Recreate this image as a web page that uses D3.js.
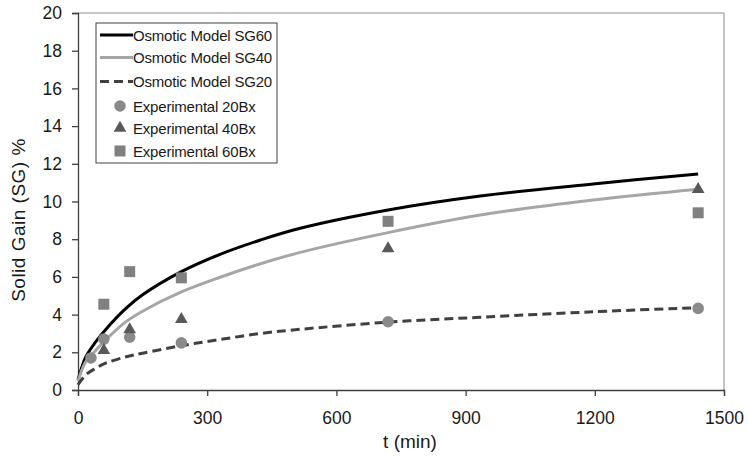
<!DOCTYPE html>
<html lang="en">
<head>
<meta charset="UTF-8">
<title>Solid Gain</title>
<script src="https://d3js.org/d3.v7.min.js"></script>
<style>
  html, body { margin: 0; padding: 0; background: #fff; }
  svg { display: block; font-family: "Liberation Sans", Arial, sans-serif; }
</style>
</head>
<body>
<div id="chart"></div>
<script>
// model curves
const modelT = [0, 18, 41, 64, 110, 150, 240, 330, 424, 516, 720, 934, 1196, 1440];
const sg60Model = [0.53, 1.75, 2.55, 3.2, 4.3, 5.05, 6.28, 7.2, 7.96, 8.58, 9.55, 10.29, 10.93, 11.46];
const sg40Model = [0.48, 1.5, 2.1, 2.65, 3.6, 4.18, 5.2, 5.98, 6.7, 7.3, 8.35, 9.28, 10.08, 10.65];
const sg20Model = [0.28, 0.8, 1.15, 1.42, 1.75, 1.95, 2.35, 2.68, 3.0, 3.22, 3.6, 3.86, 4.15, 4.37];

// experimental points
const exp20T = [30, 60, 120, 240, 720, 1440];
const exp20 = [1.7, 2.7, 2.8, 2.5, 3.62, 4.33];
const exp40T = [60, 120, 240, 720, 1440];
const exp40 = [2.1, 3.2, 3.75, 7.5, 10.65];
const exp60T = [60, 120, 240, 720, 1440];
const exp60 = [4.55, 6.28, 5.95, 8.95, 9.4];

const xTicks = [0, 300, 600, 900, 1200, 1500];
const yTicks = [0, 2, 4, 6, 8, 10, 12, 14, 16, 18, 20];

const width = 748, height = 459;
const margin = { top: 13, right: 24, bottom: 69, left: 78 };
const w = width - margin.left - margin.right;
const h = height - margin.top - margin.bottom;

const svg = d3.select("#chart").append("svg")
    .attr("width", width)
    .attr("height", height);

const g = svg.append("g")
    .attr("transform", `translate(${margin.left},${margin.top})`);

const x = d3.scaleLinear().domain([0, 1500]).range([0, w]);
const y = d3.scaleLinear().domain([0, 20]).range([h, 0]);

// plot border (top / right)
g.append("path")
    .attr("d", `M0,0H${w}V${h}`)
    .attr("fill", "none")
    .attr("stroke", "#8c8c8c")
    .attr("stroke-width", 1);

const xAxis = g.append("g")
    .attr("transform", `translate(0,${h})`)
    .call(d3.axisBottom(x).tickValues(xTicks).tickSize(6).tickPadding(16).tickFormat(d3.format("d")));
const yAxis = g.append("g")
    .call(d3.axisLeft(y).tickValues(yTicks).tickSize(6).tickPadding(10).tickFormat(d3.format("d")));

[xAxis, yAxis].forEach(a => {
    a.select(".domain").attr("stroke", "#404040").attr("stroke-width", 1.3);
    a.selectAll(".tick line").attr("stroke", "#404040").attr("stroke-width", 1.3);
    a.selectAll(".tick text")
        .attr("font-size", 17.5)
        .attr("font-family", "Liberation Sans, Arial, sans-serif")
        .attr("fill", "#1a1a1a");
});

// axis titles
svg.append("text")
    .attr("x", 410).attr("y", 448)
    .attr("text-anchor", "middle")
    .attr("font-size", 19)
    .attr("fill", "#1a1a1a")
    .text("t (min)");

svg.append("text")
    .attr("transform", "translate(25,220) rotate(-90)")
    .attr("text-anchor", "middle")
    .attr("font-size", 19)
    .attr("letter-spacing", 0.5)
    .attr("fill", "#1a1a1a")
    .text("Solid Gain (SG) %");

// model lines
const line = d3.line()
    .x(d => x(d[0]))
    .y(d => y(d[1]))
    .curve(d3.curveCatmullRom.alpha(0.5));

const models = [
    { vals: sg60Model, color: "#000000", dash: null },
    { vals: sg40Model, color: "#a6a6a6", dash: null },
    { vals: sg20Model, color: "#404040", dash: "9,5" }
];

models.forEach(m => {
    g.append("path")
        .datum(modelT.map((t, i) => [t, m.vals[i]]))
        .attr("d", line)
        .attr("fill", "none")
        .attr("stroke", m.color)
        .attr("stroke-width", 3)
        .attr("stroke-dasharray", m.dash);
});

// markers
const circleSym = d3.symbol().type(d3.symbolCircle).size(105);
const triSym = d3.symbol().type(d3.symbolTriangle).size(70);
const sqSym = d3.symbol().type(d3.symbolSquare).size(121);

const series = [
    { t: exp20T, v: exp20, sym: circleSym, color: "#8a8a8a" },
    { t: exp40T, v: exp40, sym: triSym, color: "#595959" },
    { t: exp60T, v: exp60, sym: sqSym, color: "#808080" }
];

series.forEach(s => {
    g.selectAll(null)
        .data(s.t.map((t, i) => [t, s.v[i]]))
        .enter().append("path")
        .attr("d", s.sym)
        .attr("transform", d => `translate(${x(d[0])},${y(d[1])})`)
        .attr("fill", s.color);
});

// legend
const legend = svg.append("g").attr("transform", "translate(96,23)");
legend.append("rect")
    .attr("width", 181).attr("height", 140)
    .attr("fill", "#fff")
    .attr("stroke", "#404040")
    .attr("stroke-width", 1);

const legendItems = [
    { label: "Osmotic Model SG60", type: "line", color: "#000000", dash: null },
    { label: "Osmotic Model SG40", type: "line", color: "#a6a6a6", dash: null },
    { label: "Osmotic Model SG20", type: "line", color: "#404040", dash: "9,5" },
    { label: "Experimental 20Bx", type: "sym", sym: circleSym, color: "#8a8a8a" },
    { label: "Experimental 40Bx", type: "sym", sym: triSym, color: "#595959" },
    { label: "Experimental 60Bx", type: "sym", sym: sqSym, color: "#808080" }
];
const rowY = [12, 34.5, 58.5, 83, 105, 128];

legendItems.forEach((it, i) => {
    const row = legend.append("g").attr("transform", `translate(0,${rowY[i]})`);
    if (it.type === "line") {
        row.append("line")
            .attr("x1", 4).attr("x2", 37)
            .attr("stroke", it.color)
            .attr("stroke-width", 3)
            .attr("stroke-dasharray", it.dash);
    } else {
        row.append("path")
            .attr("d", it.sym)
            .attr("transform", "translate(24,0)")
            .attr("fill", it.color);
    }
    row.append("text")
        .attr("x", 37).attr("y", 5.5)
        .attr("font-size", 15)
        .attr("letter-spacing", -0.2)
        .attr("fill", "#1a1a1a")
        .text(it.label);
});
</script>
</body>
</html>
